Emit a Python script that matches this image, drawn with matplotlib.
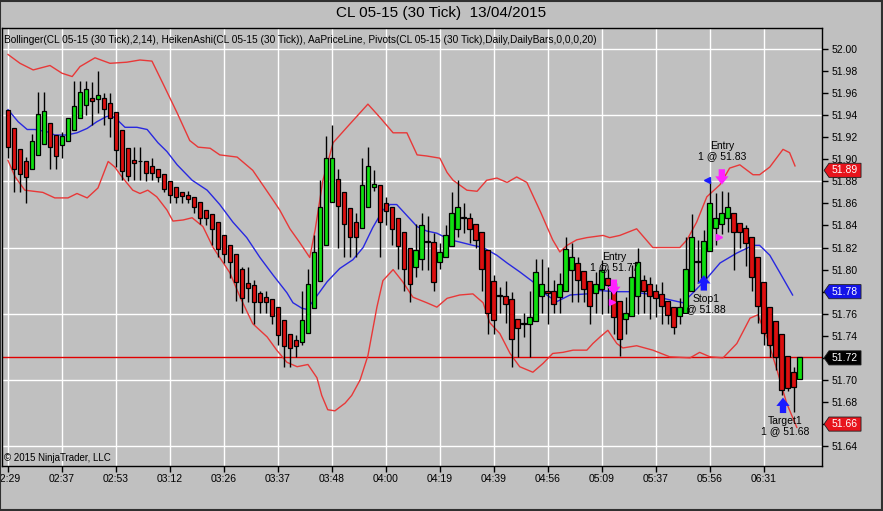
import matplotlib
matplotlib.use('Agg')
import matplotlib.pyplot as plt
from matplotlib.patches import Polygon, Rectangle
import matplotlib.transforms as mtransforms
import numpy as np

plt.rcParams['font.family'] = ['Liberation Sans', 'DejaVu Sans']

# Heiken Ashi bars (open, high, low, close), one per 30-tick bar
ha_open = [51.945, 51.928, 51.909, 51.898, 51.891, 51.904, 51.914, 51.933, 51.922, 51.913,
           51.917, 51.927, 51.937, 51.949, 51.956, 51.955, 51.956, 51.951, 51.943, 51.927,
           51.910, 51.899, 51.898, 51.898, 51.894, 51.891, 51.887, 51.880, 51.875, 51.870,
           51.868, 51.866, 51.861, 51.854, 51.850, 51.843, 51.831, 51.822, 51.814, 51.801,
           51.788, 51.786, 51.779, 51.775, 51.773, 51.766, 51.754, 51.742, 51.736, 51.734,
           51.743, 51.765, 51.790, 51.822, 51.861, 51.882, 51.870, 51.856, 51.843, 51.838,
           51.857, 51.875, 51.877, 51.860, 51.857, 51.847, 51.834, 51.820, 51.802, 51.810,
           51.826, 51.825, 51.807, 51.811, 51.821, 51.837, 51.848, 51.847, 51.841, 51.834,
           51.818, 51.790, 51.777, 51.776, 51.773, 51.755, 51.752, 51.751, 51.753, 51.776,
           51.781, 51.781, 51.775, 51.781, 51.800, 51.806, 51.799, 51.790, 51.779, 51.782,
           51.792, 51.788, 51.772, 51.755, 51.758, 51.776, 51.791, 51.787, 51.781, 51.778,
           51.772, 51.766, 51.758, 51.761, 51.781, 51.807, 51.791, 51.817, 51.838, 51.841,
           51.847, 51.851, 51.842, 51.838, 51.830, 51.811, 51.789, 51.766, 51.753, 51.742,
           51.722, 51.707, 51.701]
ha_high = [51.945, 51.928, 51.909, 51.902, 51.923, 51.961, 51.961, 51.933, 51.922, 51.925,
           51.937, 51.971, 51.971, 51.971, 51.970, 51.980, 51.960, 51.960, 51.943, 51.927,
           51.910, 51.911, 51.911, 51.898, 51.901, 51.891, 51.887, 51.880, 51.875, 51.870,
           51.871, 51.866, 51.861, 51.854, 51.850, 51.843, 51.831, 51.822, 51.814, 51.802,
           51.802, 51.791, 51.781, 51.781, 51.773, 51.766, 51.754, 51.742, 51.741, 51.781,
           51.801, 51.831, 51.881, 51.921, 51.931, 51.891, 51.870, 51.856, 51.851, 51.901,
           51.911, 51.890, 51.877, 51.866, 51.857, 51.847, 51.834, 51.820, 51.841, 51.851,
           51.849, 51.833, 51.824, 51.840, 51.870, 51.881, 51.860, 51.851, 51.841, 51.834,
           51.818, 51.795, 51.784, 51.790, 51.780, 51.755, 51.761, 51.781, 51.810, 51.810,
           51.802, 51.791, 51.797, 51.830, 51.824, 51.811, 51.799, 51.790, 51.798, 51.809,
           51.801, 51.788, 51.772, 51.775, 51.804, 51.820, 51.795, 51.793, 51.787, 51.789,
           51.772, 51.766, 51.774, 51.830, 51.850, 51.827, 51.836, 51.880, 51.869, 51.871,
           51.870, 51.851, 51.842, 51.840, 51.830, 51.811, 51.789, 51.766, 51.753, 51.742,
           51.722, 51.712, 51.721]
ha_low = [51.901, 51.870, 51.870, 51.860, 51.891, 51.904, 51.914, 51.891, 51.891, 51.901,
          51.917, 51.927, 51.937, 51.940, 51.931, 51.942, 51.931, 51.920, 51.893, 51.881,
          51.880, 51.881, 51.881, 51.880, 51.881, 51.879, 51.870, 51.860, 51.860, 51.860,
          51.860, 51.851, 51.841, 51.840, 51.822, 51.811, 51.806, 51.792, 51.772, 51.761,
          51.771, 51.751, 51.761, 51.761, 51.751, 51.732, 51.712, 51.712, 51.721, 51.732,
          51.743, 51.765, 51.790, 51.822, 51.861, 51.820, 51.811, 51.811, 51.811, 51.838,
          51.857, 51.871, 51.811, 51.840, 51.822, 51.801, 51.781, 51.771, 51.793, 51.800,
          51.800, 51.781, 51.801, 51.811, 51.821, 51.830, 51.833, 51.824, 51.820, 51.781,
          51.742, 51.742, 51.761, 51.752, 51.712, 51.721, 51.739, 51.721, 51.753, 51.761,
          51.751, 51.761, 51.761, 51.781, 51.771, 51.771, 51.771, 51.751, 51.761, 51.760,
          51.761, 51.742, 51.722, 51.742, 51.758, 51.760, 51.761, 51.755, 51.757, 51.751,
          51.751, 51.742, 51.751, 51.761, 51.781, 51.788, 51.791, 51.817, 51.822, 51.832,
          51.834, 51.800, 51.820, 51.803, 51.781, 51.752, 51.732, 51.721, 51.709, 51.686,
          51.690, 51.671, 51.701]
ha_close = [51.911, 51.891, 51.887, 51.884, 51.917, 51.941, 51.944, 51.911, 51.903, 51.921,
            51.937, 51.948, 51.961, 51.964, 51.953, 51.958, 51.946, 51.937, 51.908, 51.889,
            51.885, 51.897, 51.898, 51.888, 51.888, 51.884, 51.873, 51.868, 51.866, 51.867,
            51.864, 51.857, 51.847, 51.847, 51.837, 51.819, 51.814, 51.807, 51.789, 51.774,
            51.783, 51.771, 51.771, 51.771, 51.758, 51.741, 51.731, 51.729, 51.731, 51.754,
            51.787, 51.816, 51.857, 51.901, 51.901, 51.858, 51.841, 51.830, 51.830, 51.877,
            51.894, 51.878, 51.843, 51.853, 51.837, 51.821, 51.801, 51.787, 51.818, 51.840,
            51.825, 51.789, 51.816, 51.831, 51.851, 51.857, 51.847, 51.837, 51.827, 51.801,
            51.761, 51.754, 51.776, 51.769, 51.737, 51.747, 51.751, 51.757, 51.798, 51.787,
            51.779, 51.769, 51.787, 51.819, 51.811, 51.791, 51.782, 51.767, 51.787, 51.800,
            51.786, 51.757, 51.737, 51.761, 51.793, 51.807, 51.781, 51.776, 51.774, 51.767,
            51.759, 51.748, 51.766, 51.801, 51.830, 51.808, 51.826, 51.860, 51.847, 51.851,
            51.857, 51.834, 51.834, 51.824, 51.793, 51.767, 51.743, 51.732, 51.721, 51.691,
            51.693, 51.694, 51.721]

# Bollinger(2,14) lines read as (bar position, price)
upper_x = [0.0, 2.0, 4.2, 7.0, 9.0, 10.7, 12.0, 14.5, 17.0, 19.8, 22.0, 24.0, 25.8, 28.2,
           30.3, 31.7, 33.7, 35.3, 38.2, 40.8, 44.2, 45.3, 47.0, 48.7, 50.3, 51.2, 52.5,
           54.2, 56.5, 60.0, 62.0, 64.2, 66.5, 68.2, 69.8, 72.0, 73.2, 74.2, 76.5, 78.2,
           79.8, 81.5, 83.2, 84.8, 86.5, 88.8, 90.8, 92.0, 93.2, 94.8, 96.5, 99.2, 100.3,
           102.0, 104.8, 107.5, 112.0, 113.2, 114.8, 116.5, 118.7, 120.3, 122.0, 124.2,
           125.3, 127.0, 129.2, 130.3, 131.2]
upper_y = [51.995, 51.987, 51.981, 51.985, 51.978, 51.975, 51.984, 51.992, 51.987, 51.988,
           51.990, 51.989, 51.969, 51.942, 51.917, 51.911, 51.910, 51.904, 51.902, 51.890,
           51.863, 51.854, 51.837, 51.824, 51.811, 51.836, 51.881, 51.915, 51.929, 51.950,
           51.938, 51.924, 51.924, 51.904, 51.903, 51.901, 51.888, 51.881, 51.872, 51.871,
           51.881, 51.883, 51.879, 51.884, 51.879, 51.852, 51.827, 51.816, 51.822, 51.827,
           51.829, 51.831, 51.829, 51.831, 51.837, 51.820, 51.820, 51.827, 51.843, 51.866,
           51.877, 51.892, 51.895, 51.886, 51.886, 51.893, 51.909, 51.906, 51.894]
mid_x = [0.0, 1.7, 3.2, 4.5, 6.5, 7.8, 9.8, 11.5, 13.2, 14.8, 16.5, 17.8, 19.5, 21.5, 23.2,
         25.0, 26.5, 28.2, 30.7, 33.2, 35.3, 37.5, 39.8, 42.0, 44.2, 46.5, 47.5, 49.0, 49.8,
         50.8, 53.2, 55.3, 57.5, 59.2, 60.8, 62.5, 63.7, 64.8, 66.5, 68.2, 69.8, 71.5, 73.7,
         75.3, 77.5, 79.2, 81.5, 83.2, 85.3, 87.5, 89.8, 91.5, 93.7, 96.5, 98.7, 101.5,
         103.7, 106.5, 109.2, 112.5, 114.2, 116.5, 118.7, 121.5, 124.2, 125.3, 127.0,
         128.7, 130.8]
mid_y = [51.945, 51.934, 51.927, 51.927, 51.925, 51.922, 51.922, 51.924, 51.928, 51.934,
         51.939, 51.938, 51.929, 51.929, 51.927, 51.915, 51.907, 51.895, 51.881, 51.872,
         51.859, 51.843, 51.829, 51.811, 51.795, 51.779, 51.770, 51.765, 51.764, 51.771,
         51.789, 51.801, 51.809, 51.820, 51.838, 51.854, 51.859, 51.859, 51.849, 51.839,
         51.835, 51.833, 51.827, 51.825, 51.822, 51.820, 51.813, 51.806, 51.798, 51.789,
         51.777, 51.771, 51.777, 51.778, 51.781, 51.780, 51.780, 51.778, 51.774, 51.770,
         51.779, 51.792, 51.806, 51.815, 51.822, 51.822, 51.813, 51.797, 51.777]
lower_x = [0.0, 1.2, 2.8, 5.8, 7.8, 10.0, 11.5, 13.2, 15.0, 16.7, 17.8, 19.0, 20.8, 22.0,
           23.3, 24.8, 26.5, 27.5, 29.2, 30.7, 32.5, 34.2, 37.0, 38.7, 40.8, 43.2, 44.8,
           46.5, 48.2, 50.0, 51.5, 52.3, 53.3, 54.5, 56.2, 57.3, 58.7, 60.0, 61.5, 62.5,
           64.2, 65.8, 67.5, 69.8, 71.5, 73.2, 75.3, 77.5, 79.2, 80.3, 82.0, 83.7, 85.3,
           87.5, 89.2, 90.8, 92.5, 94.2, 96.5, 97.5, 98.7, 100.0, 101.5, 102.5, 104.8,
           107.5, 110.3, 113.7, 115.3, 117.0, 119.2, 121.5, 123.7, 125.0, 126.5, 128.2,
           129.8, 131.5]
lower_y = [51.899, 51.884, 51.872, 51.870, 51.865, 51.865, 51.869, 51.865, 51.874, 51.898,
           51.893, 51.884, 51.872, 51.869, 51.872, 51.866, 51.854, 51.844, 51.845, 51.847,
           51.839, 51.820, 51.797, 51.775, 51.751, 51.739, 51.727, 51.716, 51.712, 51.714,
           51.702, 51.686, 51.673, 51.672, 51.679, 51.686, 51.700, 51.722, 51.766, 51.790,
           51.800, 51.789, 51.775, 51.770, 51.766, 51.774, 51.777, 51.778, 51.770, 51.752,
           51.742, 51.724, 51.712, 51.707, 51.715, 51.724, 51.725, 51.727, 51.727, 51.733,
           51.739, 51.745, 51.733, 51.729, 51.731, 51.727, 51.721, 51.720, 51.725, 51.721,
           51.720, 51.733, 51.756, 51.759, 51.739, 51.709, 51.679, 51.657]

time_labels = ['02:29', '02:37', '02:53', '03:12', '03:26', '03:37', '03:48', '04:00',
               '04:19', '04:39', '04:56', '05:09', '05:37', '05:56', '06:31']
label_every = 9

# trade markers from the strategy
entry_bars = [101, 119]
entry_tips = [51.777, 51.877]
entry_texts = ['Entry\n1 @ 51.77', 'Entry\n1 @ 51.83']
exit_bars = [116, 129.2]
exit_tips = [51.795, 51.684]
exit_texts = ['Stop1\n@ 51.88', 'Target1\n1 @ 51.68']
fill_bars = [100.7, 118.5]
fill_prices = [51.771, 51.830]
order_bar = 116.5
order_price = 51.881

# right-axis price tags: upper band, middle band, last price, lower band
tag_values = [51.89, 51.78, 51.72, 51.66]
tag_colors = ['#e8141c', '#1414e8', '#000000', '#e8141c']

bg = '#c0c0c0'
red_body = '#dc0f0f'
green_body = '#10e010'

fig = plt.figure(figsize=(8.83, 5.11), dpi=100, facecolor=bg)
ax = fig.add_axes([2 / 883, 45 / 511, 820 / 883, 438 / 511])
ax.set_facecolor(bg)

n = len(ha_close)
bars = np.arange(n)
ax.set_xlim(-1.0, 135.7)
ax.set_ylim(51.622, 52.019)

# grid
tick_pos = np.arange(len(time_labels)) * label_every
for xp in tick_pos:
    ax.axvline(xp, color='white', lw=1, zorder=0)
for yp in np.arange(51.64, 52.001, 0.06):
    ax.axhline(yp, color='white', lw=1, zorder=0)

# last price line
ax.axhline(ha_close[-1], color='#e00000', lw=1, zorder=1)

# bollinger bands
ax.plot(upper_x, upper_y, color='#e83838', lw=1, zorder=2)
ax.plot(lower_x, lower_y, color='#e83838', lw=1, zorder=2)
ax.plot(mid_x, mid_y, color='#2828e0', lw=1, zorder=2)

# heiken ashi candles
o = np.array(ha_open)
c = np.array(ha_close)
ax.vlines(bars, ha_low, ha_high, color='black', lw=1, zorder=3)
colors = [green_body if cc >= oo else red_body for oo, cc in zip(o, c)]
heights = np.maximum(np.abs(c - o), 0.0009)
ax.bar(bars, heights, bottom=np.minimum(o, c), width=0.8, color=colors,
       edgecolor='black', linewidth=0.9, zorder=4)

# trade markers
arrow_style = 'simple,head_length=0.5,head_width=0.8,tail_width=0.38'
for b, tip, txt in zip(entry_bars, entry_tips, entry_texts):
    ax.annotate('', xy=(b, tip), xytext=(b, tip + 0.014),
                arrowprops=dict(arrowstyle=arrow_style, mutation_scale=12,
                                shrinkA=0, shrinkB=0, color='#ff22ff', lw=0),
                zorder=6)
    ax.text(b, tip + 0.021, txt, ha='center', va='bottom', fontsize=7.5,
            linespacing=1.0, zorder=6)
for b, tip, txt in zip(exit_bars, exit_tips, exit_texts):
    ax.annotate('', xy=(b, tip), xytext=(b, tip - 0.014),
                arrowprops=dict(arrowstyle=arrow_style, mutation_scale=12,
                                shrinkA=0, shrinkB=0, color='#1a1aff', lw=0),
                zorder=6)
    ax.text(b + 0.3, tip - 0.017, txt, ha='center', va='top', fontsize=7.5,
            linespacing=1.0, zorder=6)
ax.plot(fill_bars, fill_prices, linestyle='none', marker='>', ms=4.5,
        color='#ff22ff', zorder=6)
ax.plot([order_bar], [order_price], linestyle='none', marker='<', ms=4.5,
        color='#1a1aff', zorder=6)

# axes styling
for sp in ax.spines.values():
    sp.set_color('black')
    sp.set_linewidth(1)
ax.yaxis.tick_right()
ax.set_yticks(np.arange(51.64, 52.001, 0.02))
ax.set_yticklabels([f'{v:.2f}' for v in np.arange(51.64, 52.001, 0.02)])
ax.set_xticks(tick_pos)
ax.set_xticklabels(time_labels)
ax.tick_params(axis='both', direction='out', length=4, width=1, color='black',
               labelsize=7.5, pad=2)
ax.tick_params(axis='y', pad=3)

# price tags on the right axis
trans = mtransforms.blended_transform_factory(ax.transAxes, ax.transData)
hh = 0.0064
for v, col in zip(tag_values, tag_colors):
    poly = Polygon([(1.0025, v), (1.0085, v + hh), (1.0476, v + hh),
                    (1.0476, v - hh), (1.0085, v - hh)], closed=True,
                   transform=trans, clip_on=False, facecolor=col,
                   edgecolor='#202020', lw=0.6, zorder=10)
    ax.add_patch(poly)
    ax.text(1.028, v, f'{v:.2f}', transform=trans, ha='center', va='center',
            color='white', fontsize=7.5, clip_on=False, zorder=11)

# texts
fig.text(0.5, 1 - 13 / 511, 'CL 05-15 (30 Tick)  13/04/2015', ha='center', va='center',
         fontsize=11)
ax.text(0.002, 0.985,
        'Bollinger(CL 05-15 (30 Tick),2,14), HeikenAshi(CL 05-15 (30 Tick)), AaPriceLine, '
        'Pivots(CL 05-15 (30 Tick),Daily,DailyBars,0,0,0,20)',
        transform=ax.transAxes, ha='left', va='top', fontsize=7.3)
ax.text(0.003, 0.006, '© 2015 NinjaTrader, LLC', transform=ax.transAxes,
        ha='left', va='bottom', fontsize=7)

# outer frame of the window
fig.patches.append(Rectangle((0.0005, 0.001), 0.998, 0.998, transform=fig.transFigure,
                             fill=False, edgecolor='#303030', lw=1.5))

fig.savefig('out.png', dpi=100, facecolor=bg)
